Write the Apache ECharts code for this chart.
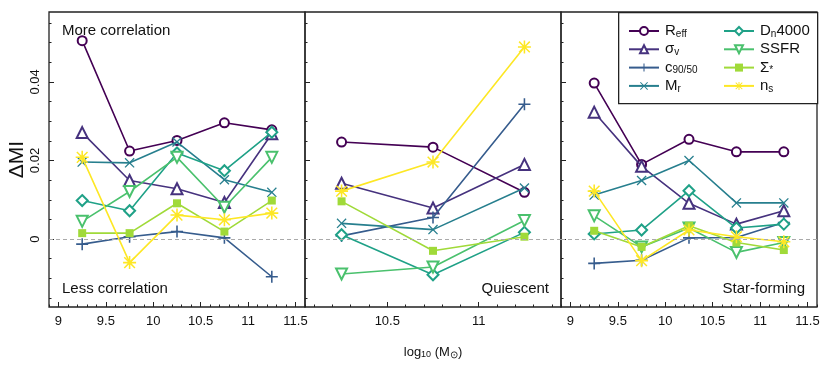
<!DOCTYPE html>
<html><head><meta charset="utf-8">
<script src="https://cdn.jsdelivr.net/npm/echarts@6/dist/echarts.min.js"></script>
<style>html,body{margin:0;padding:0;background:#fff}#c{width:830px;height:369px}</style>
</head><body><div id="c"></div>
<script>
// ---------------- data ----------------
const allBins = [9.25, 9.75, 10.25, 10.75, 11.25];
const quiescentBins = [10.25, 10.75, 11.25];
const starFormingBins = [9.25, 9.75, 10.25, 10.75, 11.25];

const all_Reff      = [0.0505, 0.0224, 0.0251, 0.0296, 0.0278];
const all_sigma     = [0.0271, 0.0149, 0.0128, 0.0093, 0.0268];
const all_c9050     = [-0.0013, 0.0006, 0.0019, 0.0003, -0.0096];
const all_Mr        = [0.0196, 0.0194, 0.0247, 0.0151, 0.0119];
const all_Dn4000    = [0.0098, 0.0072, 0.0219, 0.0174, 0.0272];
const all_SSFR      = [0.0045, 0.0121, 0.0208, 0.0081, 0.0208];
const all_SigmaStar = [0.0015, 0.0015, 0.0091, 0.0019, 0.0098];
const all_ns        = [0.0208, -0.0060, 0.0061, 0.0049, 0.0066];

const quies_Reff      = [0.0247, 0.0234, 0.0119];
const quies_sigma     = [0.0142, 0.0079, 0.0190];
const quies_c9050     = [0.0008, 0.0055, 0.0343];
const quies_Mr        = [0.0040, 0.0024, 0.0130];
const quies_Dn4000    = [0.0011, -0.0091, 0.0017];
const quies_SSFR      = [-0.0089, -0.0071, 0.0047];
const quies_SigmaStar = [0.0096, -0.0030, 0.0006];
const quies_ns        = [0.0122, 0.0196, 0.0489];

const sf_Reff      = [0.0397, 0.0190, 0.0254, 0.0222, 0.0222];
const sf_sigma     = [0.0323, 0.0185, 0.0091, 0.0038, 0.0072];
const sf_c9050     = [-0.0062, -0.0054, 0.0003, 0.0004, 0.0042];
const sf_Mr        = [0.0112, 0.0149, 0.0200, 0.0092, 0.0092];
const sf_Dn4000    = [0.0013, 0.0023, 0.0123, 0.0028, 0.0038];
const sf_SSFR      = [0.0059, -0.0020, 0.0028, -0.0034, -0.0009];
const sf_SigmaStar = [0.0021, -0.0020, 0.0034, -0.0009, -0.0028];
const sf_ns        = [0.0122, -0.0055, 0.0023, 0.0006, -0.0007];

const wideTickLabels = [9, 9.5, 10, 10.5, 11, 11.5];
const quiescentTickLabels = [10.5, 11];
const yTickLabels = [0, 0.02, 0.04];

const seriesNames = ['Reff', 'sigma', 'c9050', 'Mr', 'Dn4000', 'SSFR', 'SigmaStar', 'ns'];
const legendLabels = {
  Reff: 'R{sub|eff}', sigma: 'σ{sub|v}', c9050: 'c{sub|90/50}', Mr: 'M{sub|r}',
  Dn4000: 'D{sub|n}4000', SSFR: 'SSFR', SigmaStar: 'Σ{sub|*}', ns: 'n{sub|s}'
};
const panelTexts = ['More correlation', 'Less correlation', 'Quiescent', 'Star-forming'];

// ---------------- style ----------------
const FONT = '"Liberation Sans", Arial, Helvetica, sans-serif';
const SYM_PLUS = 'path://M4.35,0H5.65V4.35H10V5.65H5.65V10H4.35V5.65H0V4.35H4.35Z';
const SYM_X = 'path://M0.9,0L5,4.1L9.1,0L10,0.9L5.9,5L10,9.1L9.1,10L5,5.9L0.9,10L0,9.1L4.1,5L0,0.9Z';
const SYM_AST = 'path://M4.4,0H5.6V4.4H10V5.6H5.6V10H4.4V5.6H0V4.4H4.4Z M1.3,0.5L5,4.2L8.7,0.5L9.5,1.3L5.8,5L9.5,8.7L8.7,9.5L5,5.8L1.3,9.5L0.5,8.7L4.2,5L0.5,1.3Z';
const styles = {
  Reff:      {color: '#440154', symbol: 'emptyCircle', size: 9},
  sigma:     {color: '#46327e', symbol: 'emptyTriangle', size: 11},
  c9050:     {color: '#365c8d', symbol: SYM_PLUS, size: 12},
  Mr:        {color: '#277f8e', symbol: SYM_X, size: 10},
  Dn4000:    {color: '#1fa187', symbol: 'emptyDiamond', size: 11},
  SSFR:      {color: '#4ac16d', symbol: 'emptyTriangle', size: 11, rotate: 180},
  SigmaStar: {color: '#a0da39', symbol: 'rect', size: 8},
  ns:        {color: '#fde725', symbol: SYM_AST, size: 13}
};

const panels = [
  {bins: allBins, vals: {Reff: all_Reff, sigma: all_sigma, c9050: all_c9050, Mr: all_Mr, Dn4000: all_Dn4000, SSFR: all_SSFR, SigmaStar: all_SigmaStar, ns: all_ns},
   left: 49, min: 8.9, max: 11.6, ticks: wideTickLabels},
  {bins: quiescentBins, vals: {Reff: quies_Reff, sigma: quies_sigma, c9050: quies_c9050, Mr: quies_Mr, Dn4000: quies_Dn4000, SSFR: quies_SSFR, SigmaStar: quies_SigmaStar, ns: quies_ns},
   left: 305, min: 10.05, max: 11.45, ticks: quiescentTickLabels},
  {bins: starFormingBins, vals: {Reff: sf_Reff, sigma: sf_sigma, c9050: sf_c9050, Mr: sf_Mr, Dn4000: sf_Dn4000, SSFR: sf_SSFR, SigmaStar: sf_SigmaStar, ns: sf_ns},
   left: 561, min: 8.9, max: 11.6, ticks: wideTickLabels}
];
const YMIN = -0.0173, YMAX = 0.0578;

function steps(a, b, s) { const r = []; for (let v = a; v <= b + 1e-9; v += s) r.push(Math.round(v * 10000) / 10000); return r; }
const yMinor = steps(-0.015, 0.055, 0.005);

const grid = [], xAxis = [], yAxis = [], series = [];
panels.forEach((p, i) => {
  grid.push({left: p.left, top: 12, width: 256, height: 295, show: true, borderColor: '#222', borderWidth: 1.3, backgroundColor: 'transparent', containLabel: false});
  xAxis.push({type: 'value', gridIndex: i, min: p.min, max: p.max, position: 'bottom', splitLine: {show: false},
    axisLine: {show: false, onZero: false},
    axisTick: {show: true, inside: true, length: 5, customValues: p.ticks, lineStyle: {color: '#222', width: 1}},
    axisLabel: {customValues: p.ticks, fontSize: 13, color: '#111', margin: 8, fontFamily: FONT},
    name: i === 1 ? 'log{sub|10} (M{sub2|⊙})' : '', nameLocation: 'middle', nameGap: 37,
    nameTextStyle: {fontSize: 13, color: '#111', fontFamily: FONT,
      rich: {sub: {fontSize: 9, padding: [6, 0, 0, 0], fontFamily: FONT, color: '#111'}, sub2: {fontSize: 10, padding: [6, 0, 0, 0], fontFamily: FONT, color: '#111'}}}
  });
  yAxis.push({type: 'value', gridIndex: i, min: YMIN, max: YMAX, position: 'left', splitLine: {show: false},
    axisLine: {show: false, onZero: false},
    axisTick: {show: true, inside: true, length: 5, customValues: yTickLabels, lineStyle: {color: '#222', width: 1}},
    axisLabel: i === 0 ? {customValues: yTickLabels, rotate: 90, fontSize: 13, color: '#111', margin: 7, fontFamily: FONT} : {show: false},
    name: i === 0 ? 'ΔMI' : '', nameLocation: 'middle', nameGap: 20,
    nameTextStyle: {fontSize: 21, color: '#111', fontFamily: FONT}
  });
  seriesNames.forEach((n, k) => {
    const st = styles[n];
    const isEmpty = st.symbol.indexOf('empty') === 0;
    const s = {
      type: 'line', name: n, xAxisIndex: i, yAxisIndex: i,
      data: p.bins.map((x, j) => [x, p.vals[n][j]]),
      symbol: st.symbol, symbolSize: st.size, symbolRotate: st.rotate || 0, showAllSymbol: true,
      lineStyle: {color: st.color, width: 1.6},
      itemStyle: {color: st.color, borderColor: st.color, borderWidth: isEmpty ? 1.6 : 0},
      emphasis: {disabled: true}, animation: false, z: 3 + k * 0.1
    };
    if (k === 0) {
      s.markLine = {silent: true, symbol: 'none', label: {show: false}, animation: false,
        lineStyle: {color: '#aaa', type: [4, 3], width: 1}, data: [{yAxis: 0}]};
    }
    series.push(s);
  });
});
// minor tick axes
panels.forEach((p, i) => {
  const xMinor = steps(Math.ceil(p.min * 10 - 1e-9) / 10, p.max, 0.1);
  xAxis.push({type: 'value', gridIndex: i, min: p.min, max: p.max, position: 'bottom', splitLine: {show: false},
    axisLine: {show: false, onZero: false},
    axisLabel: {show: false}, axisTick: {show: true, inside: true, length: 2.5, customValues: xMinor, lineStyle: {color: '#222', width: 1}}});
  yAxis.push({type: 'value', gridIndex: i, min: YMIN, max: YMAX, splitLine: {show: false},
    axisLine: {show: false, onZero: false}, position: 'left', offset: 0,
    axisLabel: {show: false}, axisTick: {show: true, inside: true, length: 2.5, customValues: yMinor, lineStyle: {color: '#222', width: 1}}});
});

const legendCommon = {
  orient: 'vertical', top: 18, itemWidth: 30, itemHeight: 10, itemGap: 2.3, z: 10,
  selectedMode: false,
  formatter: (name) => legendLabels[name],
  textStyle: {fontSize: 15, lineHeight: 16, color: '#111', fontFamily: FONT, padding: [0, 0, 0, 1],
    rich: {sub: {fontSize: 10, lineHeight: 10, padding: [6, 0, 0, 0], fontFamily: FONT, color: '#111'}}}
};

const option = {
  backgroundColor: '#fff',
  animation: false,
  grid, xAxis, yAxis, series,
  legend: [
    Object.assign({}, legendCommon, {left: 623, data: seriesNames.slice(0, 4)}),
    Object.assign({}, legendCommon, {left: 718, data: seriesNames.slice(4)})
  ],
  graphic: [
    {type: 'rect', left: 618, top: 12, shape: {width: 199, height: 91}, style: {fill: '#fff', stroke: '#222', lineWidth: 1.3}, z: 5},
    {type: 'text', left: 62, top: 23, style: {text: panelTexts[0], font: '15px ' + FONT, fill: '#111'}, z: 6},
    {type: 'text', left: 62, top: 281, style: {text: panelTexts[1], font: '15px ' + FONT, fill: '#111'}, z: 6},
    {type: 'text', right: 830 - 549, top: 281, style: {text: panelTexts[2], font: '15px ' + FONT, fill: '#111'}, z: 6},
    {type: 'text', right: 830 - 805, top: 281, style: {text: panelTexts[3], font: '15px ' + FONT, fill: '#111'}, z: 6}
  ]
};
const chart = echarts.init(document.getElementById('c'), null, {renderer: 'canvas'});
chart.setOption(option);
</script>
</body></html>
